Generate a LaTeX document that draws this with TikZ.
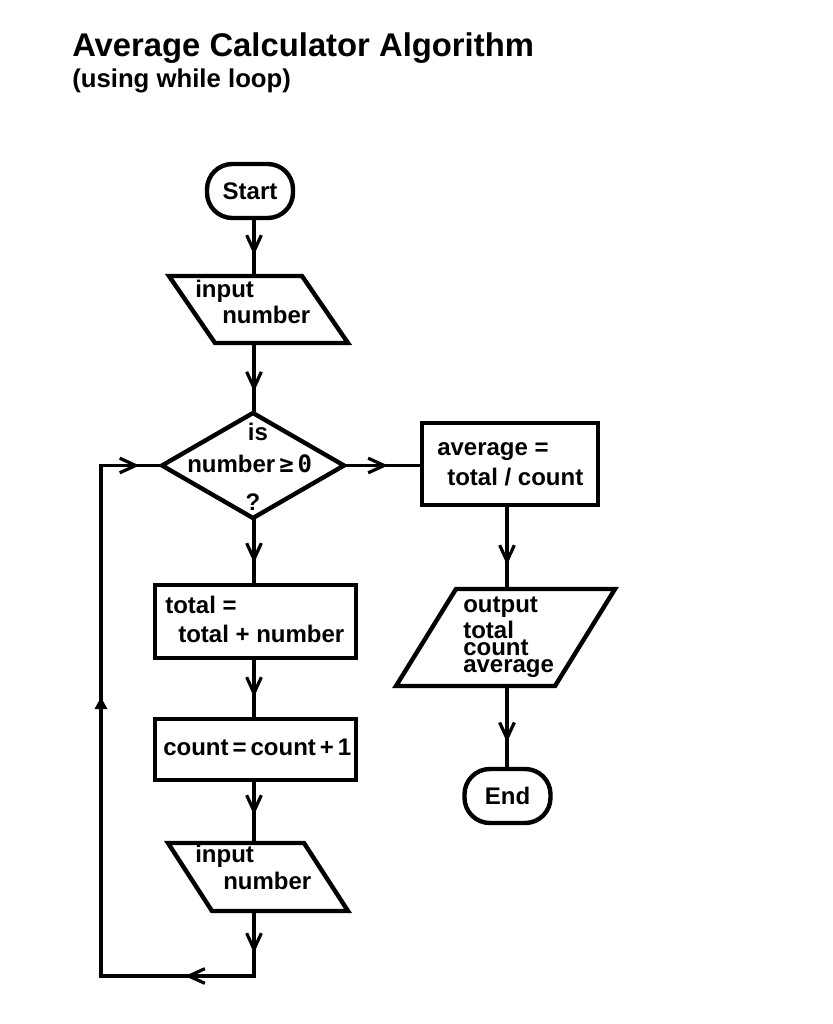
\documentclass[tikz,border=0pt]{standalone}
\usepackage{fontspec}
\setmainfont{Liberation Sans}
\newfontfamily\symfont{DejaVu Sans Mono}
\usetikzlibrary{shapes.geometric,arrows.meta,decorations.markings}
\tikzset{
  outline/.style={line width=3.3pt, line join=miter},
  shapeline/.style={draw, outline, outer sep=0pt, inner sep=0pt},
  term/.style={shapeline, rectangle, rounded corners=19pt, minimum width=64.5pt, minimum height=40.5pt, font=\bfseries\fontsize{18}{18}\selectfont},
  procbox/.style={shapeline, rectangle},
  decision/.style={shapeline, diamond},
  iobox/.style={rectangle, outer sep=0pt, inner sep=0pt},
  conn/.style={line width=2.4pt},
  barb/.tip={Straight Barb[length=12pt,width=11pt]},
  barbat/.style={postaction={decorate}, decoration={markings, mark=at position #1 with {\arrow{barb}}}},
  txt/.style={inner sep=0pt, anchor=base west, font=\bfseries\fontsize{18}{18}\selectfont},
  tight/.style={text height=9.5pt, text depth=2.5pt},
}
\begin{document}
\begin{tikzpicture}[x=0.75pt, y=-0.75pt]
\fill[white] (0,0) rectangle (832,1024);
\useasboundingbox (0,0) rectangle (832,1024);

% title
\node[anchor=base west, inner sep=0pt, font=\bfseries\fontsize{24.6}{28}\selectfont] (title) at (72,57) {Average Calculator Algorithm};
\node[anchor=base west, inner sep=0pt, font=\bfseries\fontsize{19.3}{22}\selectfont] (subtitle) at (72,88) {(using while loop)};

% helper coordinates
\coordinate (colL) at (254,0);
\coordinate (colR) at (507,0);
\coordinate (loopX) at (101,0);
\coordinate (loopY) at (0,976);

% shapes
\node[term] (start) at (250,191) {Start};

\node[iobox, minimum width=134.25pt, minimum height=50.25pt] (in1) at (258.5,309.5) {};
\draw[outline] (in1.north west) -- ([xshift=-34.5pt]in1.north east) -- (in1.south east) -- ([xshift=34.5pt]in1.south west) -- cycle;

\node[decision, minimum width=136.5pt, minimum height=78.75pt] (dia) at (253,465.5) {};

\node[procbox, minimum width=132pt, minimum height=61.5pt] (avg) at (510,464) {};
\node[procbox, minimum width=150.75pt, minimum height=54.75pt] (tot) at (255.5,621.5) {};
\node[procbox, minimum width=150.75pt, minimum height=45.75pt] (cnt) at (255.5,749.5) {};

\node[iobox, minimum width=164.25pt, minimum height=72.75pt] (out) at (505.5,637.5) {};
\draw[outline] ([xshift=45pt]out.north west) -- (out.north east) -- ([xshift=-45pt]out.south east) -- (out.south west) -- cycle;

\node[term] (stop) at (507.5,796) {End};

\node[iobox, minimum width=135pt, minimum height=51pt] (in2) at (258,877) {};
\draw[outline] (in2.north west) -- ([xshift=-33pt]in2.north east) -- (in2.south east) -- ([xshift=33pt]in2.south west) -- cycle;

% texts
\node[txt] (in1a) at (195,297) {input};
\node[txt] (in1b) at (222,323) {number};
\node[txt, anchor=base] (isq) at (258,440) {is};
\node[txt] (cond) at (187,472) {number\,{\symfont\bfseries ≥\,0}};
\node[txt, anchor=base] (qm) at (253,510) {?};
\node[txt] (avga) at (437,455) {average =};
\node[txt] (avgb) at (447,485) {total / count};
\node[txt] (outa) at (463,612) {output};
\node[txt, tight, text depth=0pt] (outb) at (463,638) {total};
\node[txt, tight, text depth=0pt, text height=8pt] (outc) at (463,655) {count};
\node[txt, tight, text height=8pt] (outd) at (463,672) {average};
\node[txt] (tota) at (165,613) {total =};
\node[txt] (totb) at (178,642) {total + number};
\node[txt] (cnta) at (163,755) {count\,=\,count\,+\,1};
\node[txt] (in2a) at (195,862) {input};
\node[txt] (in2b) at (223,889) {number};

% connectors
\draw[conn, barbat=-15.75pt] (start.south -| colL) -- (in1.north -| colL);
\draw[conn, barbat=-16pt] (in1.south -| colL) -- (dia.north -| colL);
\draw[conn, barbat=-16.5pt] (dia.south -| colL) -- (tot.north -| colL);
\draw[conn, barbat=-16.5pt] (tot.south -| colL) -- (cnt.north -| colL);
\draw[conn, barbat=-21pt] (cnt.south -| colL) -- (in2.north -| colL);
\draw[conn, postaction={decorate}, decoration={markings,
    mark=at position 31.5pt with {\arrow{barb}},
    mark=at position 100.5pt with {\arrow{barb}},
    mark=at position 372.75pt with {\arrow{Triangle[length=9pt,width=9pt]}},
    mark=at position 575.25pt with {\arrow{barb}}}]
  (in2.south -| colL) -- (colL |- loopY) -- (loopX |- loopY) -- (loopX |- dia.west) -- (dia.west);
\draw[conn, barbat=-25.5pt] (dia.east) -- (dia.east -| avg.west);
\draw[conn, barbat=-18pt] (avg.south -| colR) -- (out.north -| colR);
\draw[conn, barbat=-20pt] (out.south -| colR) -- (stop.north -| colR);
\end{tikzpicture}
\end{document}
